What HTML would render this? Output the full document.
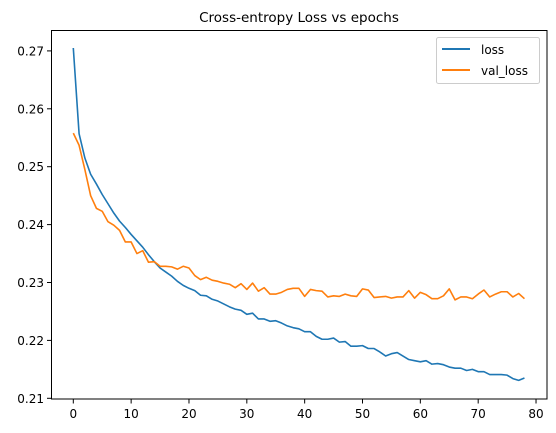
<!DOCTYPE html>
<html><head><meta charset="utf-8"><style>
body{margin:0;background:#fff;}
svg{display:block;font-family:"DejaVu Sans","Liberation Sans",sans-serif;}
</style></head><body>
<svg id="chart" width="556" height="433">
<text x="299" y="22" font-size="13.5" text-anchor="middle">Cross-entropy Loss vs epochs</text>
<g id="ticks"></g>
<g id="lines"></g>
<rect x="51.5" y="30.5" width="495.5" height="368.5" fill="none" stroke="#000" stroke-width="1"/>
<g>
<rect x="436.5" y="37.5" width="103" height="46" rx="2" fill="#fff" stroke="#ccc"/>
<line x1="442" y1="49" x2="470" y2="49" stroke="#1f77b4" stroke-width="2"/>
<text x="481" y="54" font-size="12">loss</text>
<line x1="442" y1="70" x2="470" y2="70" stroke="#ff7f0e" stroke-width="2"/>
<text x="481" y="75" font-size="12">val_loss</text>
</g>
</svg>
<script>
const loss=[0.2705,0.2557,0.2515,0.2487,0.2470,0.2452,0.2436,0.2420,0.2406,0.2395,0.2383,0.2372,0.2361,0.2348,0.2336,0.2325,0.2318,0.2311,0.2302,0.2295,0.2290,0.2286,0.2278,0.2277,0.2271,0.2268,0.2263,0.2258,0.2254,0.2252,0.2245,0.2247,0.2237,0.2237,0.2233,0.2234,0.2230,0.2225,0.2222,0.2220,0.2215,0.2215,0.2207,0.2202,0.2202,0.2204,0.2197,0.2198,0.2190,0.2190,0.2191,0.2186,0.2186,0.2180,0.2173,0.2177,0.2179,0.2173,0.2167,0.2165,0.2163,0.2165,0.2159,0.2160,0.2158,0.2154,0.2152,0.2152,0.2148,0.2150,0.2146,0.2146,0.2141,0.2141,0.2141,0.2140,0.2134,0.2131,0.2135];
const valLoss=[0.2558,0.2537,0.2495,0.2450,0.2428,0.2423,0.2405,0.2399,0.2390,0.2370,0.2370,0.2350,0.2355,0.2335,0.2336,0.2328,0.2328,0.2327,0.2323,0.2328,0.2325,0.2312,0.2305,0.2309,0.2304,0.2302,0.2299,0.2297,0.2291,0.2298,0.2288,0.2299,0.2285,0.2291,0.2280,0.2280,0.2283,0.2288,0.2290,0.2290,0.2276,0.2288,0.2286,0.2285,0.2275,0.2277,0.2276,0.2280,0.2277,0.2276,0.2289,0.2287,0.2274,0.2275,0.2276,0.2273,0.2275,0.2275,0.2286,0.2273,0.2283,0.2279,0.2272,0.2272,0.2277,0.2289,0.2270,0.2275,0.2275,0.2272,0.2280,0.2287,0.2275,0.2280,0.2284,0.2284,0.2275,0.2281,0.2272];
const xTicks=[0,10,20,30,40,50,60,70,80];
const yTicks=[0.21,0.22,0.23,0.24,0.25,0.26,0.27];
const NS="http://www.w3.org/2000/svg";
function xs(v){return 73.3+v*5.784;}
function ys(v){return 398.3-(v-0.21)*5790;}
const tg=document.getElementById('ticks');
xTicks.forEach(t=>{
 const l=document.createElementNS(NS,'line');
 l.setAttribute('x1',xs(t));l.setAttribute('x2',xs(t));l.setAttribute('y1',399);l.setAttribute('y2',403.5);l.setAttribute('stroke','#000');
 
 
 tg.appendChild(l);
 const tx=document.createElementNS(NS,'text');
 tx.setAttribute('x',xs(t));tx.setAttribute('y',418);tx.setAttribute('font-size','12');tx.setAttribute('text-anchor','middle');tx.textContent=t;
 
 
 tg.appendChild(tx);
});
yTicks.forEach(t=>{
 const l=document.createElementNS(NS,'line');
 l.setAttribute('x1',47);l.setAttribute('x2',51.5);l.setAttribute('y1',ys(t));l.setAttribute('y2',ys(t));l.setAttribute('stroke','#000');
 
 
 tg.appendChild(l);
 const tx=document.createElementNS(NS,'text');
 tx.setAttribute('x',44);tx.setAttribute('y',ys(t)+4.5);tx.setAttribute('font-size','12');tx.setAttribute('text-anchor','end');tx.textContent=t.toFixed(2);
 
 
 tg.appendChild(tx);
});
const lg=document.getElementById('lines');
function line(data,color,name){
 const p=document.createElementNS(NS,'polyline');
 p.setAttribute('points',data.map((v,i)=>xs(i).toFixed(2)+','+ys(v).toFixed(2)).join(' '));
 p.setAttribute('fill','none');p.setAttribute('stroke',color);p.setAttribute('stroke-width','1.6');p.setAttribute('stroke-linejoin','round');
 
 
 lg.appendChild(p);
}
line(loss,'#1f77b4','loss-line');
line(valLoss,'#ff7f0e','val-loss-line');
</script>
</body></html>
